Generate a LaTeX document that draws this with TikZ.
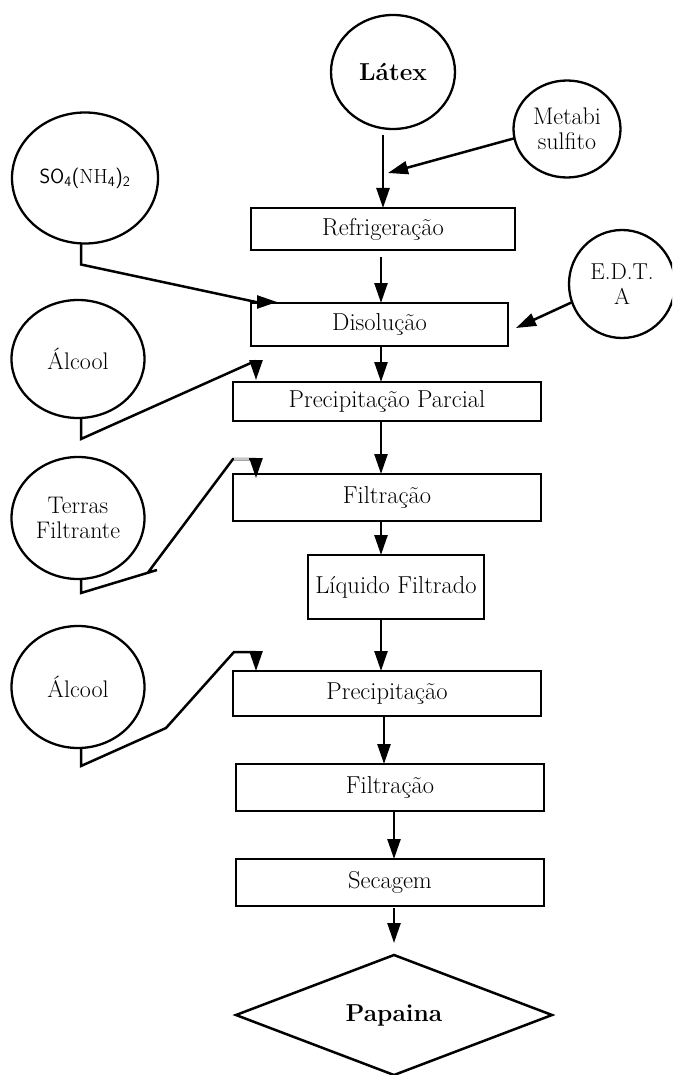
\documentclass[tikz,border=0pt]{standalone}
\usetikzlibrary{shapes.geometric,arrows.meta,calc}
\newcommand\fsz{\fontsize{24.5}{25}\selectfont}
\newcommand\fell{\fontsize{24}{25}\selectfont}
\newcommand\fbig{\fontsize{24.5}{26}\selectfont\bfseries}
\begin{document}
\begin{tikzpicture}[x=1pt,y=-1pt,
  proc/.style={draw,line width=2.7pt,rectangle,inner sep=2pt,outer sep=0pt,font=\fsz,align=center},
  inp/.style={draw,line width=2.3pt,ellipse,inner sep=0pt,outer sep=0pt,font=\fell,align=center},
  arr/.style={line width=2.5pt,-{Triangle[length=20pt,width=13pt]}},
]
\useasboundingbox (0,0) rectangle (672,1075);
\clip (0,0) rectangle (672,1075);

% input ellipses
\node[inp, minimum width=124pt, minimum height=114pt, font=\fbig] (latex) at (393,72) {Látex};
\node[inp, minimum width=107pt, minimum height=97pt] (metabi) at (567,129) {Metabi\\sulfito};
\node[inp, minimum width=146pt, minimum height=131pt, font=\fontsize{20.5}{22}\selectfont] (so4) at (85,178)
  {{\sffamily SO\textsubscript{4}(}NH{\sffamily\textsubscript{4})\textsubscript{2}}};
\node[inp, minimum width=106pt, minimum height=108pt, font=\fontsize{23}{25}\selectfont] (edta) at (622,284) {E.D.T.\\A};
\node[inp, minimum width=133pt, minimum height=118pt] (alc1) at (78,359) {Álcool};
\node[inp, minimum width=133pt, minimum height=122pt] (terras) at (78,518) {Terras\\Filtrante};
\node[inp, minimum width=133pt, minimum height=122pt] (alc2) at (78,687) {Álcool};

% process boxes
\node[proc, minimum width=264pt, minimum height=42pt] (refrig) at (383,229) {Refrigeração};
\node[proc, minimum width=257pt, minimum height=43pt] (disol) at (379.5,324.5) {Disolução};
\node[proc, minimum width=308pt, minimum height=39pt] (pp) at (387,401.5) {Precipitação Parcial};
\node[proc, minimum width=308pt, minimum height=47pt] (filt1) at (387,497.5) {Filtração};
\node[proc, minimum width=176pt, minimum height=64pt] (liq) at (396,587) {Líquido Filtrado};
\node[proc, minimum width=308pt, minimum height=45pt] (precip) at (387,693.5) {Precipitação};
\node[proc, minimum width=308pt, minimum height=47pt] (filt2) at (390,787.5) {Filtração};
\node[proc, minimum width=308pt, minimum height=47pt] (sec) at (390,882.5) {Secagem};
\node[draw, line width=2.5pt, diamond, aspect=2.63, inner sep=0pt, outer sep=0pt,
      minimum width=316pt, minimum height=120pt, font=\fbig] (pap) at (394,1015) {Papaina};

% free ends
\coordinate (mtip) at (388,173);
\coordinate (etip) at (516,328);

% main flow
\draw[arr] ($(latex.south -| refrig.north)+(0,6)$) -- (refrig.north);
\draw[arr] (metabi.190) -- (mtip);
\draw[arr] ([xshift=-2pt,yshift=-7pt]refrig.south) -- ([xshift=1.5pt]disol.north);
\draw[arr] (edta.200) -- (etip);
\draw[arr] ([xshift=1.5pt]disol.south) -- ([xshift=-6pt]pp.north);
\draw[arr] ([xshift=-6pt]pp.south) -- ([xshift=-6pt]filt1.north);
\draw[arr] ([xshift=-6pt]filt1.south) -- ([xshift=-15pt]liq.north);
\draw[arr] ([xshift=-15pt]liq.south) -- ([xshift=-6pt]precip.north);
\draw[arr] ([xshift=-3pt]precip.south) -- ([xshift=-6pt]filt2.north);
\draw[arr] ([xshift=4pt]filt2.south) -- ([xshift=4pt]sec.north);
\draw[arr] ([xshift=4pt,yshift=-2pt]sec.south) -- ([yshift=12pt]pap.north);

% side inputs
\draw[arr] ([xshift=-4pt]so4.south) -- ++(0,21) -- (256,302) -- ($(disol.north west)+(26,-1)$);
\draw[arr] ([xshift=3pt]alc1.south) -- ++(0,21) -- (253,362) -- (256,361) -- ($(pp.north west)+(23,-2)$);
\draw[arr] ([xshift=3pt]terras.south) -- ++(0,14) -- (157,570) -- (148,572.5) -- (233,459) -- (256,459)
  -- ($(filt1.north west)+(23,4)$);
\draw[line width=2.5pt, gray!45] (234,459) -- (249,459);
\draw[arr] ([xshift=3pt]alc2.south) -- ++(0,18) -- (166,728) -- (234,652) -- (256,652)
  -- ($(precip.north west)+(23,0)$);
\end{tikzpicture}
\end{document}
